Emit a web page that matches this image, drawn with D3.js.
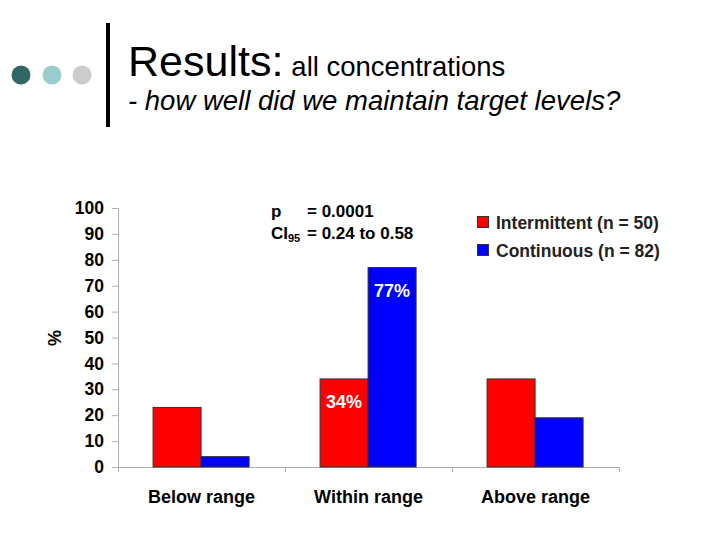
<!DOCTYPE html>
<html><head><meta charset="utf-8">
<script src="https://cdn.jsdelivr.net/npm/d3@7"></script>
<style>body{margin:0;background:#fff;}svg{display:block;font-family:Arial,"Liberation Sans",sans-serif;}</style>
</head><body>
<svg id="c" width="720" height="540"></svg>
<script>
const categories = ["Below range", "Within range", "Above range"];
const seriesNames = ["Intermittent (n = 50)", "Continuous (n = 82)"];
const intermittent = [23, 34, 34];
const continuous = [4, 77, 19];
const yTicks = [0, 10, 20, 30, 40, 50, 60, 70, 80, 90, 100];
const barLabels = [{cat: "Within range", s: 1, text: "77%"}, {cat: "Within range", s: 0, text: "34%"}];
const colors = ["#ff0000", "#0000ff"];

const svg = d3.select("#c");

// header decoration
const dots = [{x: 21, c: "#336666"}, {x: 52, c: "#99cccc"}, {x: 82, c: "#cccccc"}];
svg.selectAll("circle.dot").data(dots).join("circle").attr("class", "dot")
  .attr("cx", d => d.x).attr("cy", 75).attr("r", 9.5).attr("fill", d => d.c);
svg.append("rect").attr("x", 106).attr("y", 23).attr("width", 4).attr("height", 104).attr("fill", "#000");

const t1 = svg.append("text").attr("x", 128).attr("y", 76).attr("fill", "#000");
t1.append("tspan").attr("font-size", 43).text("Results:");
t1.append("tspan").attr("font-size", 27.5).attr("dx", 8).text("all concentrations");
svg.append("text").attr("x", 128).attr("y", 110).attr("font-size", 27.5).attr("font-style", "italic")
  .attr("fill", "#000").text("- how well did we maintain target levels?");

// chart
const x0 = d3.scaleBand().domain(categories).range([118, 619]).padding(0);
const bw = x0.bandwidth();
const x1 = d3.scaleBand().domain([0, 1]).range([bw * 0.21, bw * 0.785]).padding(0);
const y = d3.scaleLinear().domain([0, 100]).range([467, 208]);

const yAxis = d3.axisLeft(y).tickValues(yTicks).tickSize(6).tickPadding(8);
const gy = svg.append("g").attr("transform", "translate(118,0)").call(yAxis);
gy.select(".domain").attr("stroke", "#b0b0b0").attr("d", "M-6,208.5H0.5V467.5");
gy.selectAll(".tick line").attr("stroke", "#b0b0b0");
gy.selectAll(".tick text").attr("font-size", 17.5).attr("font-weight", "bold").attr("fill", "#000")
  .attr("font-family", "Arial, 'Liberation Sans', sans-serif");

// x axis
const xAxis = d3.axisBottom(x0).tickSize(0).tickPadding(23);
const gx = svg.append("g").attr("transform", "translate(0,467)").call(xAxis);
gx.select(".domain").attr("stroke", "#b0b0b0").attr("d", "M118,0.5H619");
gx.selectAll(".tick text").attr("font-size", 18).attr("font-weight", "bold").attr("fill", "#000")
  .attr("font-family", "Arial, 'Liberation Sans', sans-serif");
const bounds = categories.map(c => x0(c)).concat([x0(categories[2]) + bw]);
gx.selectAll("line.sep").data(bounds).join("line").attr("class", "sep")
  .attr("x1", d => Math.round(d) + 0.5).attr("x2", d => Math.round(d) + 0.5)
  .attr("y1", 0).attr("y2", 5).attr("stroke", "#b0b0b0");

// bars
const data = [];
categories.forEach((c, i) => {
  data.push({cat: c, s: 0, v: intermittent[i]});
  data.push({cat: c, s: 1, v: continuous[i]});
});
svg.append("g").selectAll("rect").data(data).join("rect")
  .attr("x", d => x0(d.cat) + x1(d.s)).attr("width", x1.bandwidth())
  .attr("y", d => y(d.v)).attr("height", d => y(0) - y(d.v))
  .attr("fill", d => colors[d.s]).attr("stroke", "#333").attr("stroke-width", 1);

// bar labels
svg.append("g").selectAll("text").data(barLabels).join("text")
  .attr("x", d => x0(d.cat) + x1(d.s) + x1.bandwidth() / 2)
  .attr("y", d => y(d.s === 1 ? continuous[categories.indexOf(d.cat)] : intermittent[categories.indexOf(d.cat)]) + 29)
  .attr("text-anchor", "middle").attr("font-size", 18).attr("font-weight", "bold").attr("fill", "#fff")
  .text(d => d.text);

// y label
svg.append("text").attr("transform", "translate(61,338) rotate(-90)").attr("text-anchor", "middle")
  .attr("font-size", 18).attr("font-weight", "bold").attr("fill", "#000").text("%");

// stats text
const st1 = svg.append("text").attr("x", 271).attr("y", 217).attr("font-size", 17).attr("font-weight", "bold").attr("fill", "#000");
st1.append("tspan").text("p");
st1.append("tspan").attr("x", 307).text("= 0.0001");
const st2 = svg.append("text").attr("x", 271).attr("y", 239).attr("font-size", 17).attr("font-weight", "bold").attr("fill", "#000");
st2.append("tspan").text("CI");
st2.append("tspan").attr("font-size", 11).attr("dy", 3).text("95");
st2.append("tspan").attr("x", 307).attr("dy", -3).text("= 0.24 to 0.58");

// legend
const lg = svg.append("g");
seriesNames.forEach((n, i) => {
  lg.append("rect").attr("x", 477.5).attr("y", 216.5 + i * 28).attr("width", 11).attr("height", 11)
    .attr("fill", colors[i]).attr("stroke", "#333");
  lg.append("text").attr("x", 496).attr("y", 229 + i * 28).attr("font-size", 17.5).attr("font-weight", "bold")
    .attr("fill", "#222").text(n);
});
</script>
</body></html>
